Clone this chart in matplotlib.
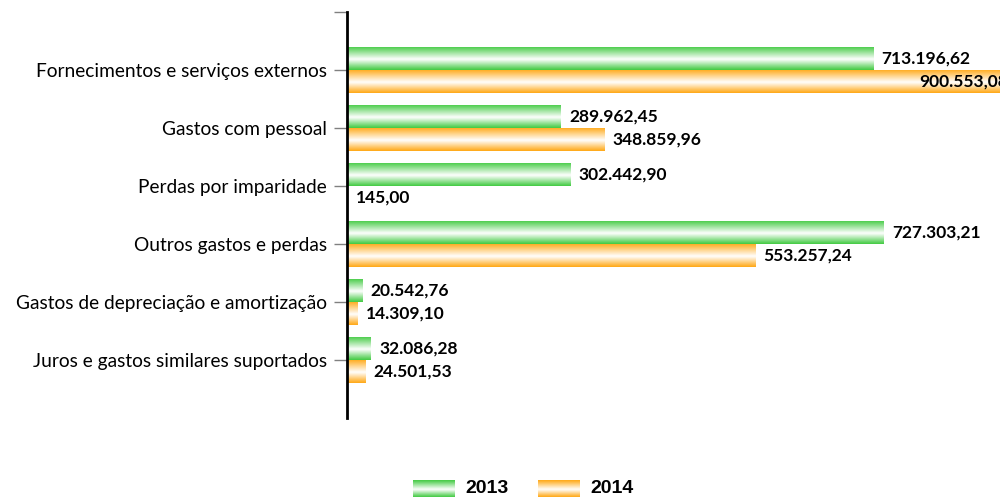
import matplotlib.pyplot as plt
import numpy as np
from matplotlib.colors import LinearSegmentedColormap

categorias = ['Fornecimentos e serviços externos', 'Gastos com pessoal',
              'Perdas por imparidade', 'Outros gastos e perdas',
              'Gastos de depreciação e amortização',
              'Juros e gastos similares suportados']
v2013 = [713196.62, 289962.45, 302442.90, 727303.21, 20542.76, 32086.28]
v2014 = [900553.08, 348859.96, 145.00, 553257.24, 14309.10, 24501.53]
anos = ['2013', '2014']

verde = '#42CA42'
laranja = '#FFA815'


def fmt(v):
    s = f'{v:,.2f}'
    return s.replace(',', 'X').replace('.', ',').replace('X', '.')


def grad_cmap(cor):
    return LinearSegmentedColormap.from_list('g', [(0, cor), (0.55, 'white'), (1, cor)])


def preencher(ax, rect, cmap):
    x, y = rect.get_x(), rect.get_y()
    w, h = rect.get_width(), rect.get_height()
    g = np.linspace(0, 1, 64).reshape(-1, 1)
    # eixo y invertido: o topo da barra e o menor valor
    im = ax.imshow(g, cmap=cmap, aspect='auto', extent=(x, x + w, y + h, y),
                   interpolation='bicubic', zorder=2)
    im.set_clip_path(rect)


plt.rcParams['font.family'] = ['Lato', 'DejaVu Sans']

fig = plt.figure(figsize=(10, 4.97), dpi=100)
ax = fig.add_axes([0.347, 0.159, 0.653, 0.817])

y = np.arange(len(categorias))
h = 0.4
xmax = 885300

b1 = ax.barh(y - h / 2, v2013, height=h, color='none', edgecolor='none')
b2 = ax.barh(y + h / 2, v2014, height=h, color='none', edgecolor='none')

ax.set_ylim(6, -1)
ax.set_xlim(0, xmax)

for r in b1:
    preencher(ax, r, grad_cmap(verde))
for r in b2:
    preencher(ax, r, grad_cmap(laranja))

for yy, v in zip(y - h / 2, v2013):
    ax.annotate(fmt(v), xy=(v, yy), xytext=(6, 0), textcoords='offset points',
                ha='left', va='center', fontsize=12.5, fontweight='bold',
                annotation_clip=False)
for yy, v in zip(y + h / 2, v2014):
    if v > xmax:
        # rotulo preso a borda direita, como no original (cortado)
        ax.annotate(fmt(v), xy=(xmax, yy), xytext=(6, 0), textcoords='offset points',
                    ha='right', va='center', fontsize=12.5, fontweight='bold',
                    annotation_clip=False)
    else:
        ax.annotate(fmt(v), xy=(v, yy), xytext=(6, 0), textcoords='offset points',
                    ha='left', va='center', fontsize=12.5, fontweight='bold',
                    annotation_clip=False)

ax.set_yticks(np.arange(-1, len(categorias)))
ax.set_yticklabels([''] + categorias, fontsize=13.8)
ax.tick_params(axis='y', length=9.5, width=1, color='#808080', pad=5)
ax.set_xticks([])
for s in ['top', 'right', 'bottom']:
    ax.spines[s].set_visible(False)
ax.spines['left'].set_linewidth(2)
ax.spines['left'].set_color('black')

# legenda
lax = fig.add_axes([0.41, 0.0, 0.24, 0.04])
lax.axis('off')
g = np.linspace(0, 1, 64).reshape(-1, 1)
for i, (ano, cor) in enumerate(zip(anos, [verde, laranja])):
    x0 = 3 + i * 125
    lax.imshow(g, cmap=grad_cmap(cor), aspect='auto', extent=(x0, x0 + 42, 20, 3),
               interpolation='bicubic')
    lax.text(x0 + 52, 11, ano, ha='left', va='center', fontsize=14,
             fontweight='bold', family='Liberation Sans')
lax.set_xlim(0, 240)
lax.set_ylim(20, 0)

fig.savefig('out.png', dpi=100)
